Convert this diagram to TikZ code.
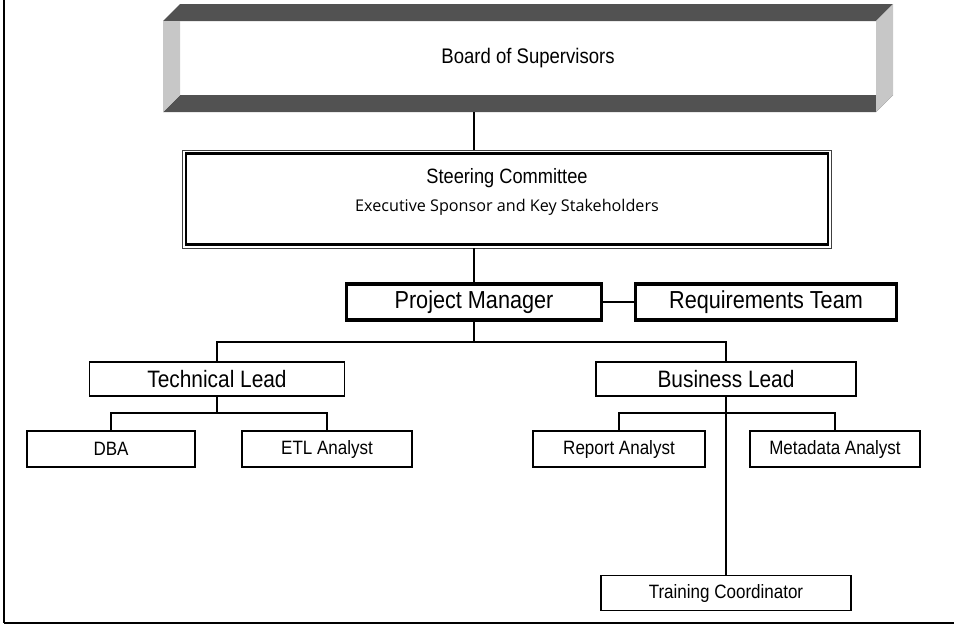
\documentclass[tikz,border=0pt]{standalone}
\usepackage{fontspec}
\setmainfont{Liberation Sans}[FakeStretch=0.88]
\newfontfamily\subfont{Open Sans}
\usetikzlibrary{positioning}

\tikzset{
  box/.style={draw, line width=0.7pt, minimum height=36*0.02cm, inner sep=0pt},
  bigbox/.style={draw, line width=2.2pt, minimum height=36*0.02cm, inner sep=0pt},
  dblbox/.style={draw, line width=0.5pt, black!75, inner sep=0pt},
  link/.style={draw, line width=0.7pt}
}

\begin{document}
\begin{tikzpicture}[x=0.02cm, y=-0.02cm]
  \useasboundingbox (0,0) rectangle (954,629);
  % page frame
  \draw[line width=1.4pt] (4,0) -- (4,623);
  \draw[line width=1pt] (4,623) -- (954,623);

  % Board of Supervisors
  \fill[black!68] (163,21) -- (180,4) -- (893,4) -- (876,21) -- cycle;
  \fill[black!68] (163,112) -- (180,95) -- (893,95) -- (876,112) -- cycle;
  \fill[black!22] (163,21) -- (180,21) -- (180,95) -- (163,112) -- cycle;
  \fill[black!22] (876,21) -- (893,4) -- (893,95) -- (876,112) -- cycle;
  \node (board) at (528,58) {\fontsize{12}{14}\selectfont Board of Supervisors};

  % Steering Committee
  \node[dblbox, minimum width=649*0.02cm, minimum height=98*0.02cm] (steer) at (507,199) {};
  \draw[line width=1.3pt] ([shift={(4,4)}]steer.north west) rectangle ([shift={(-4,-4)}]steer.south east);
  \node (steertitle) at (507,178) {\fontsize{11.8}{14}\selectfont Steering Committee};
  \node (steersub) at (507,207) {\subfont\fontsize{9.2}{11}\selectfont Executive Sponsor and Key Stakeholders};

  % Project Manager and Requirements Team
  \node[bigbox, minimum width=255*0.02cm] (pm) at (474,302) {\fontsize{14}{16}\selectfont Project Manager};
  \node[bigbox, minimum width=261*0.02cm] (rt) at (766,302) {\fontsize{14}{16}\selectfont Requirements Team};

  % leads
  \node[box, minimum width=255*0.02cm, minimum height=34*0.02cm] (tech) at (217,379) {\fontsize{13.5}{16}\selectfont Technical Lead};
  \node[box, minimum width=260*0.02cm, minimum height=34*0.02cm] (bus) at (726,379) {\fontsize{13.5}{16}\selectfont Business Lead};

  % analysts
  \node[box, minimum width=168*0.02cm] (dba) at (111,449) {\fontsize{11}{13}\selectfont DBA};
  \node[box, minimum width=170*0.02cm] (etl) at (327,449) {\fontsize{11}{13}\selectfont ETL Analyst};
  \node[box, minimum width=172*0.02cm] (rep) at (619,449) {\fontsize{11}{13}\selectfont Report Analyst};
  \node[box, minimum width=170*0.02cm] (meta) at (835,449) {\fontsize{11}{13}\selectfont Metadata Analyst};
  \node[box, minimum width=250*0.02cm, minimum height=35*0.02cm] (train) at (726,593) {\fontsize{11}{13}\selectfont Training Coordinator};

  % connectors
  \draw[link] (474,112) -- (steer.north -| 474,0);
  \draw[link] (steer.south -| pm.north) -- (pm.north);
  \draw[link] (pm.east) -- (rt.west);
  \draw[link] (pm.south) -- (474,342);
  \draw[link] (tech.north) |- (474,342) -| (bus.north);
  \draw[link] (tech.south) -- (217,413);
  \draw[link] (dba.north) |- (217,413) -| (etl.north);
  \draw[link] (bus.south) -- (train.north);
  \draw[link] (rep.north) |- (726,413) -| (meta.north);
\end{tikzpicture}
\end{document}
